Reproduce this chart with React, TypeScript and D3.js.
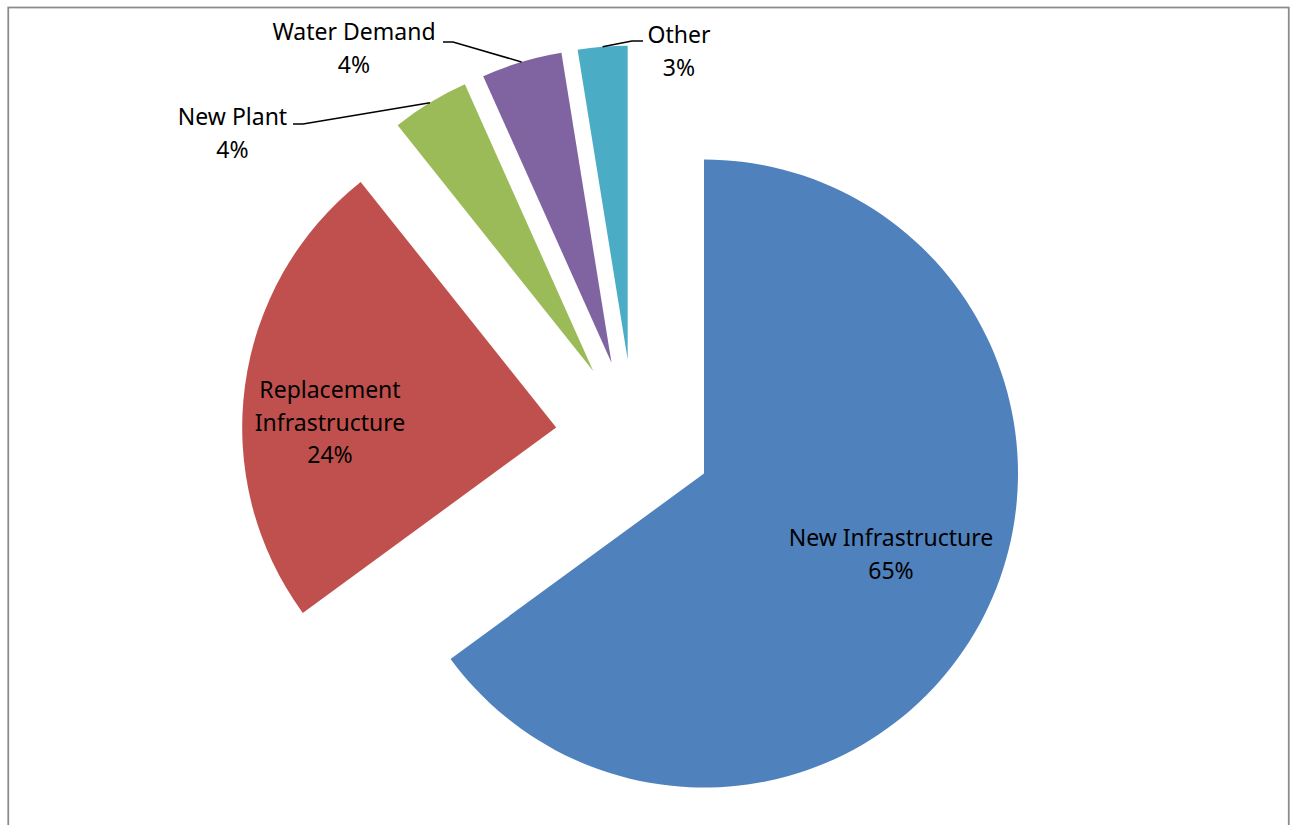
import React from "react";
import * as d3 from "d3";

const categories = ["New Infrastructure", "Replacement Infrastructure", "New Plant", "Water Demand", "Other"];
const values = [64.95, 24.35, 4.0, 4.15, 2.55];
const colors = ["#4F81BD", "#C0504D", "#9BBB59", "#8064A2", "#4BACC6"];

// label text lines (category name split), percentage appended below
const labelLines: string[][] = [
  ["New Infrastructure"],
  ["Replacement", "Infrastructure"],
  ["New Plant"],
  ["Water Demand"],
  ["Other"],
];

const W = 1291;
const H = 825;
const CX = 634;
const CY = 438;
const R = 314;
const EXPLODE = 78.5;
const FONT = "'Noto Sans', 'Open Sans', sans-serif";
const FS = 23;
const LH = 32.5;

// label anchor points (center x, first line baseline)
const labelPos: ({ x: number; y: number; inside: boolean; side?: "left" | "right" })[] = [
  { x: 891, y: 546, inside: true },
  { x: 330, y: 398, inside: true },
  { x: 232.5, y: 125, inside: false, side: "left" },
  { x: 354, y: 40, inside: false, side: "left" },
  { x: 679, y: 43, inside: false, side: "right" },
];

export default function App() {
  const total = d3.sum(values);
  const pie = d3.pie<number>().sort(null).startAngle(0).endAngle(2 * Math.PI);
  const arcs = pie(values);
  const arcGen = d3.arc<d3.PieArcDatum<number>>().innerRadius(0).outerRadius(R);

  return (
    <svg
      width={W}
      height={H}
      style={{ position: "absolute", left: 0, top: 0, background: "#fff" }}
      xmlns="http://www.w3.org/2000/svg"
    >
      <rect x={0} y={0} width={W} height={H} fill="#fff" />
      <rect x={8.25} y={7.5} width={1280.5} height={900} fill="none" stroke="#8a8a8a" strokeWidth={1.75} />
      {arcs.map((a, i) => {
        const mid = (a.startAngle + a.endAngle) / 2;
        const dx = Math.sin(mid) * EXPLODE;
        const dy = -Math.cos(mid) * EXPLODE;
        return (
          <path
            key={categories[i]}
            d={arcGen(a) || ""}
            transform={`translate(${CX + dx},${CY + dy})`}
            fill={colors[i]}
          />
        );
      })}
      {arcs.map((a, i) => {
        const mid = (a.startAngle + a.endAngle) / 2;
        const ox = CX + Math.sin(mid) * EXPLODE;
        const oy = CY - Math.cos(mid) * EXPLODE;
        const ex = ox + Math.sin(mid) * R;
        const ey = oy - Math.cos(mid) * R;
        const pct = Math.round((values[i] / total) * 100) + "%";
        const lp = labelPos[i];
        const lines = [...labelLines[i], pct];
        let leader: React.ReactNode = null;
        if (!lp.inside) {
          const ly = lp.y - 1 + (i === 2 ? 0 : i === 3 ? 3 : 0);
          if (lp.side === "left") {
            const sx = i === 2 ? 293 : 443;
            const kx = sx + 10;
            leader = (
              <polyline
                points={`${sx},${ly} ${kx},${ly} ${ex},${ey}`}
                fill="none"
                stroke="#000"
                strokeWidth={1.5}
              />
            );
          } else {
            const sx = 643;
            const kx = sx - 11;
            leader = (
              <polyline
                points={`${sx},${ly - 1} ${kx},${ly - 1} ${ex},${ey}`}
                fill="none"
                stroke="#000"
                strokeWidth={1.5}
              />
            );
          }
        }
        return (
          <g key={"lab" + i}>
            {leader}
            {lines.map((t, j) => (
              <text
                key={j}
                x={lp.x}
                y={lp.y + j * LH}
                textAnchor="middle"
                fontFamily={FONT}
                fontSize={FS}
                fill="#000"
              >
                {t}
              </text>
            ))}
          </g>
        );
      })}
    </svg>
  );
}
